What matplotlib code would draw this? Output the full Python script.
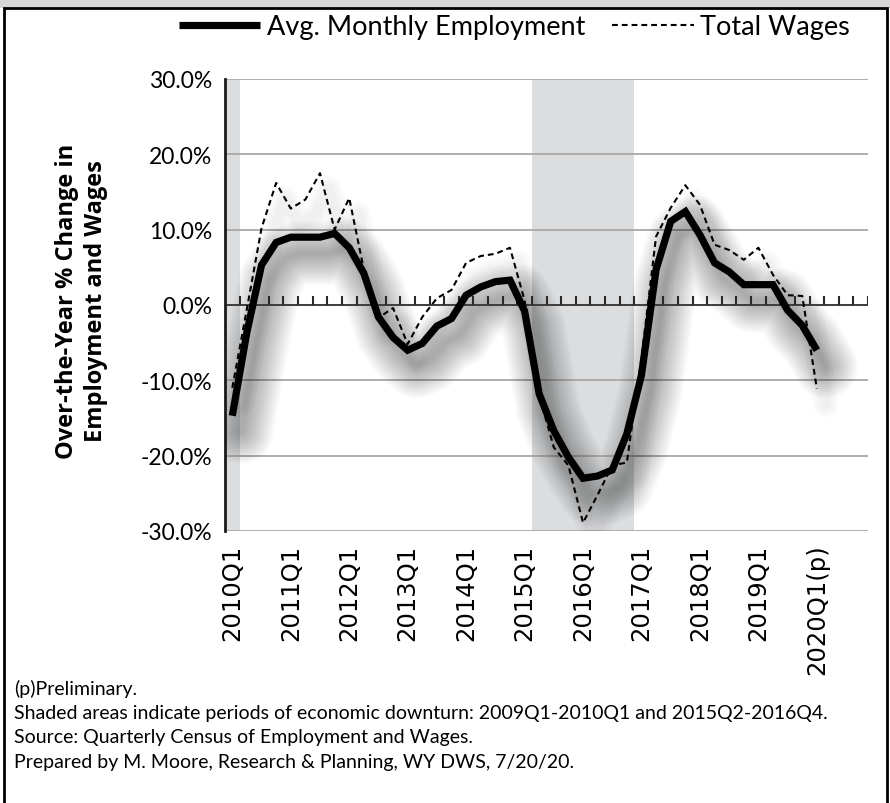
import matplotlib
matplotlib.use("Agg")
import matplotlib.pyplot as plt
import matplotlib.transforms as mtransforms
from matplotlib.patches import Rectangle
import numpy as np

# ---- data ----
quarters = [f"{y}Q{q}" for y in range(2010, 2021) for q in range(1, 5)]  # 44 category slots
tick_labels = ["2010Q1", "2011Q1", "2012Q1", "2013Q1", "2014Q1", "2015Q1",
               "2016Q1", "2017Q1", "2018Q1", "2019Q1", "2020Q1(p)"]
employment = [-14.7, -3.6, 5.3, 8.3, 9.0, 9.0, 9.0, 9.5, 7.6, 4.2,
              -1.6, -4.3, -6.0, -5.1, -2.8, -1.8, 1.3, 2.4, 3.1, 3.3,
              -0.8, -11.8, -16.7, -20.2, -23.0, -22.7, -21.9, -17.1, -9.3, 4.7,
              11.1, 12.4, 9.3, 5.6, 4.4, 2.7, 2.7, 2.7, -0.7, -2.7,
              -6.0]
wages = [-11.0, -0.5, 10.2, 16.2, 12.8, 14.0, 17.5, 10.0, 14.2, 4.7,
         -1.7, -0.4, -5.2, -1.6, 0.9, 2.0, 5.6, 6.5, 6.8, 7.6,
         0.6, -12.0, -18.9, -21.3, -28.9, -25.2, -21.3, -20.9, -7.0, 9.1,
         12.9, 15.9, 13.3, 8.0, 7.3, 6.0, 7.6, 4.0, 1.3, 1.2,
         -11.1]
downturns = [("2010Q1", "2010Q1"), ("2015Q2", "2016Q4")]
yticks = [-30, -20, -10, 0, 10, 20, 30]
footnotes = ["(p)Preliminary.",
             "Shaded areas indicate periods of economic downturn: 2009Q1-2010Q1 and 2015Q2-2016Q4.",
             "Source: Quarterly Census of Employment and Wages.",
             "Prepared by M. Moore, Research & Planning, WY DWS, 7/20/20."]

W, H = 890, 804
fig = plt.figure(figsize=(W / 100, H / 100), dpi=100)
fig.patch.set_facecolor("white")

# outer frame
fig.patches.append(Rectangle((0, 1 - 9 / H), 1, 9 / H, transform=fig.transFigure,
                             facecolor="#d6d6d6", edgecolor="none", zorder=0))
fig.patches.append(Rectangle((4 / W, -0.05), 883 / W, 1.05 - 9 / H, transform=fig.transFigure,
                             facecolor="none", edgecolor="black", linewidth=2.0, zorder=1))

left, right, top, bottom = 225, 868, 80, 532
ax = fig.add_axes([left / W, 1 - bottom / H, (right - left) / W, (bottom - top) / H])

x = np.arange(len(employment))
n_slots = len(quarters)
ax.set_xlim(-0.5, n_slots - 0.5)
ax.set_ylim(-30, 30)

# shaded downturns
for a, b in downturns:
    ax.axvspan(quarters.index(a) - 0.5, quarters.index(b) + 0.5,
               color="#dcdddf", zorder=0, linewidth=0)

# grid
for yv in yticks:
    if yv != 0:
        ax.axhline(yv, color="#a8a8a8", linewidth=1.3, zorder=1)

# soft drop shadows (blur faked with stacked translucent strokes)
shadow_tr = ax.transData + mtransforms.ScaledTranslation(0.09, -0.16, fig.dpi_scale_trans)
for lw in np.arange(46, 3, -3):
    ax.plot(x, employment, color="black", linewidth=lw, alpha=0.022, transform=shadow_tr,
            solid_capstyle="round", solid_joinstyle="round", zorder=2)
for lw in np.arange(18, 3, -5):
    ax.plot(x, wages, color="black", linewidth=lw, alpha=0.02, transform=shadow_tr,
            solid_capstyle="round", solid_joinstyle="round", zorder=2)

# zero line with upward ticks
ax.axhline(0, color="#3c3c3c", linewidth=1.4, zorder=3)
tick_tr = mtransforms.blended_transform_factory(ax.transData, ax.transAxes)
zero_ax = 0.5
ax.vlines(np.arange(n_slots) + 0.5, zero_ax, zero_ax + 9 / (bottom - top),
          transform=tick_tr, color="#2a2a2a", linewidth=1.5, zorder=3)

# series
l_emp, = ax.plot(x, employment, color="black", linewidth=5.2, zorder=5,
                 solid_joinstyle="miter", solid_capstyle="butt",
                 label="Avg. Monthly Employment")
l_wag, = ax.plot(x, wages, color="black", linewidth=1.5, zorder=4,
                 linestyle=(0, (2.8, 1.9)), label="Total Wages")

# axes styling
for s in ["top", "right", "bottom"]:
    ax.spines[s].set_visible(False)
ax.spines["left"].set_color("#1a1a1a")
ax.spines["left"].set_linewidth(2.0)
ax.spines["left"].set_zorder(6)

ax.set_yticks(yticks)
ax.set_yticklabels([f"{v:.1f}%" for v in yticks], fontsize=16.5, family="Lato")
ax.tick_params(axis="y", length=0, pad=9)

ax.set_xticks([quarters.index(t.replace("(p)", "")) for t in tick_labels])
ax.set_xticklabels(tick_labels, rotation=90, fontsize=17.5, family="DejaVu Sans",
                   fontweight="normal", va="top", ha="center")
ax.tick_params(axis="x", length=0, pad=9)

ax.set_ylabel("Over-the-Year % Change in\nEmployment and Wages", fontsize=17,
              fontweight="bold", family="Open Sans", linespacing=1.3)
ax.yaxis.set_label_coords(-0.182, 0.51)

fig.legend(handles=[l_emp, l_wag], loc="center", bbox_to_anchor=(0.578, 1 - 28 / H),
           ncol=2, frameon=False, prop={"family": "Lato", "size": 19.5},
           handlelength=3.0, handletextpad=0.25, columnspacing=1.0)

for i, t in enumerate(footnotes):
    fig.text(14 / W, 1 - (689 + i * 24.4) / H, t, fontsize=14.0, family="Lato",
             va="center", ha="left")

fig.savefig("out.png", dpi=100, facecolor="white")
